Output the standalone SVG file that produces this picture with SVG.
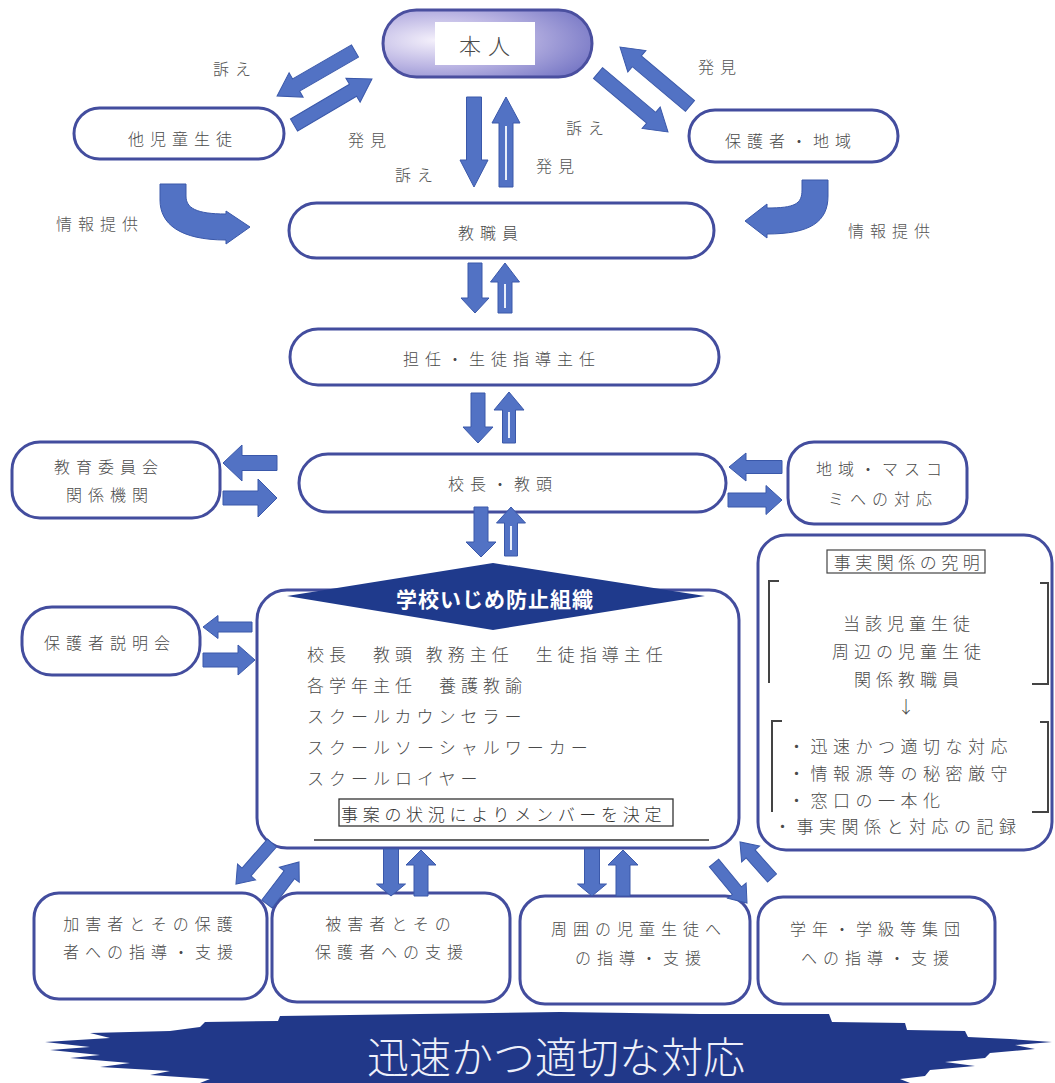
<svg xmlns="http://www.w3.org/2000/svg" width="1055" height="1083" viewBox="0 0 1055 1083">
<defs>
<radialGradient id="g1" cx="0.25" cy="0.45" r="0.85">
<stop offset="0" stop-color="#f4f0fb"/>
<stop offset="0.45" stop-color="#bdb7e4"/>
<stop offset="1" stop-color="#7273c3"/>
</radialGradient>
</defs>
<style>
.t{font-family:"Noto Sans CJK JP","Noto Sans CJK SC",sans-serif;font-size:16px;font-weight:300;fill:#4a4a4a;letter-spacing:6px}
.c{text-anchor:middle;dominant-baseline:central}
.l{dominant-baseline:central;font-size:17px;letter-spacing:5px}
.box{fill:#fff;stroke:#434d9e;stroke-width:3}
.arr{fill:#5272c4;stroke:#3a58aa;stroke-width:1}
.hl{stroke:#e8eefa;stroke-width:2;fill:none}
.br{fill:none;stroke:#444;stroke-width:2}
</style>
<rect width="1055" height="1083" fill="#fff"/>

<g id="honnin">
<rect x="383" y="10" width="209" height="67" rx="33.5" fill="url(#g1)" stroke="#4a4f9f" stroke-width="3"/>
<rect x="435" y="22" width="100" height="43" fill="#fff"/>
<text class="t c" x="488" y="44" style="font-size:22px;letter-spacing:7px">本人</text>
</g>
<g id="tajido">
<rect class="box" x="74" y="108" width="210" height="51" rx="25.5"/>
<text class="t c" x="183" y="138">他児童生徒</text>
</g>
<g id="hogosha-chiiki">
<rect class="box" x="689" y="110" width="209" height="52" rx="26"/>
<text class="t c" x="791" y="140">保護者・地域</text>
</g>
<g id="kyoshokuin">
<rect class="box" x="289" y="203" width="425" height="55" rx="27.5"/>
<text class="t c" x="491" y="232">教職員</text>
</g>
<g id="tannin">
<rect class="box" x="290" y="329" width="429" height="56" rx="28"/>
<text class="t c" x="502" y="358">担任・生徒指導主任</text>
</g>
<g id="kocho">
<rect class="box" x="299" y="454" width="427" height="58" rx="29"/>
<text class="t c" x="503" y="483">校長・教頭</text>
</g>
<g id="kyoiku">
<rect class="box" x="12" y="442" width="208" height="76" rx="28"/>
<text class="t c" x="109" y="466">教育委員会</text>
<text class="t c" x="110" y="494">関係機関</text>
</g>
<g id="masukomi">
<rect class="box" x="788" y="442" width="179" height="82" rx="26"/>
<text class="t c" x="882" y="468">地域・マスコ</text>
<text class="t c" x="883" y="498">ミへの対応</text>
</g>
<g id="setsumeikai">
<rect class="box" x="22" y="607" width="178" height="68" rx="30"/>
<text class="t c" x="110" y="642">保護者説明会</text>
</g>

<g id="soshiki">
<rect class="box" x="257" y="590" width="482" height="258" rx="30"/>
<polygon points="493,563 705,596 493,630 287,596" fill="#1f3a8c"/>
<text class="t c" x="495" y="598" style="fill:#fff;font-weight:bold;font-size:21px;letter-spacing:1px">学校いじめ防止組織</text>
<text class="t l" x="307" y="653">校長　教頭 教務主任　生徒指導主任</text>
<text class="t l" x="307" y="684">各学年主任　養護教諭</text>
<text class="t l" x="307" y="715">スクールカウンセラー</text>
<text class="t l" x="307" y="746">スクールソーシャルワーカー</text>
<text class="t l" x="307" y="777">スクールロイヤー</text>
<rect x="339" y="799" width="334" height="27" fill="none" stroke="#333" stroke-width="1.3"/>
<text class="t l" x="341" y="813" style="fill:#333;letter-spacing:4.7px">事案の状況によりメンバーを決定</text>
<line x1="314" y1="840" x2="709" y2="840" stroke="#333" stroke-width="1.5"/>
</g>

<g id="jijitsu">
<rect class="box" x="758" y="535" width="294" height="315" rx="28"/>
<rect x="827" y="550" width="158" height="23" fill="none" stroke="#444" stroke-width="1.2"/>
<text class="t c" x="909" y="561" style="font-size:17px;letter-spacing:4.5px">事実関係の究明</text>
<path class="br" d="M779,581 H769 V683"/>
<path class="br" d="M1040,583 H1048 V684 H1032"/>
<text class="t c" x="909" y="622" style="font-size:17px;letter-spacing:5px">当該児童生徒</text>
<text class="t c" x="909" y="650" style="font-size:17px;letter-spacing:5px">周辺の児童生徒</text>
<text class="t c" x="909" y="678" style="font-size:17px;letter-spacing:5px">関係教職員</text>
<text class="t c" x="906" y="705" style="font-size:17px;letter-spacing:0">↓</text>
<path class="br" d="M782,721 H772 V812"/>
<path class="br" d="M1040,722 H1048 V812 H1032"/>
<text class="t l" x="788" y="745" style="letter-spacing:5.5px">・迅速かつ適切な対応</text>
<text class="t l" x="788" y="772" style="letter-spacing:5.5px">・情報源等の秘密厳守</text>
<text class="t l" x="788" y="799" style="letter-spacing:5.5px">・窓口の一本化</text>
<text class="t l" x="774" y="825" style="letter-spacing:5.5px">・事実関係と対応の記録</text>
</g>

<g id="kagaisha">
<rect class="box" x="34" y="893" width="233" height="106" rx="25"/>
<text class="t c" x="151" y="923">加害者とその保護</text>
<text class="t c" x="151" y="951">者への指導・支援</text>
</g>
<g id="higaisha">
<rect class="box" x="272" y="893" width="238" height="109" rx="25"/>
<text class="t c" x="391" y="923">被害者とその</text>
<text class="t c" x="392" y="951">保護者への支援</text>
</g>
<g id="shui">
<rect class="box" x="520" y="896" width="230" height="108" rx="25"/>
<text class="t c" x="639" y="928">周囲の児童生徒へ</text>
<text class="t c" x="641" y="957">の指導・支援</text>
</g>
<g id="gakunen">
<rect class="box" x="758" y="897" width="237" height="107" rx="25"/>
<text class="t c" x="878" y="928">学年・学級等集団</text>
<text class="t c" x="878" y="957">への指導・支援</text>
</g>

<g id="banner">
<polygon fill="#213889" points="280,1016 420,1014 560,1012 700,1014 829,1014 832,1022 905,1023 907,1030 965,1031 968,1037 1010,1039 1052,1042 1015,1045 1035,1049 990,1053 985,1058 945,1062 975,1066 930,1070 925,1076 900,1079 910,1083 200,1083 210,1079 150,1075 170,1071 100,1067 130,1063 70,1058 100,1055 50,1050 90,1047 45,1042 110,1038 90,1033 170,1031 200,1027 205,1022 278,1021"/>
<text x="556" y="1054" text-anchor="middle" dominant-baseline="central" style="font-family:'Noto Sans CJK JP','Noto Sans CJK SC',sans-serif;font-size:42px;font-weight:300;fill:#eef0fa">迅速かつ適切な対応</text>
</g>

<g id="connectors">
<path class="arr" transform="translate(355,51) rotate(150)" d="M0,-7 H68 V-14 L90,0 L68,14 V7 H0 Z"/>
<path class="arr" transform="translate(294,125) rotate(-30.5)" d="M0,-7 H68.5 V-14 L90.5,0 L68.5,14 V7 H0 Z"/>
<path class="arr" transform="translate(474,97) rotate(90)" d="M0,-7.5 H63 V-14 L90,0 L63,14 V7.5 H0 Z"/>
<path class="arr" transform="translate(506,187) rotate(-90)" d="M0,-7 H64 V-14 L90,0 L64,14 V7 H0 Z"/>
<line class="hl" x1="506" y1="180" x2="506" y2="126"/>
<path class="arr" transform="translate(598,73) rotate(40.1)" d="M0,-7 H69.5 V-14 L91.5,0 L69.5,14 V7 H0 Z"/>
<path class="arr" transform="translate(690,106) rotate(-139.9)" d="M0,-7 H69.5 V-14 L91.5,0 L69.5,14 V7 H0 Z"/>

<path class="arr" d="M160,184 H186 V196 C186,208 196,214 226,214 V211 L250,227 L226,244 V240 C180,240 160,224 160,200 Z"/>
<path class="arr" d="M828,180 V196 C828,222 810,234 767,234 V238 L745,221 L767,204 V208 C795,208 802,204 802,190 V180 Z"/>

<path class="arr" transform="translate(475,263) rotate(90)" d="M0,-7 H35 V-14 L50,0 L35,14 V7 H0 Z"/>
<path class="arr" transform="translate(505,313) rotate(-90)" d="M0,-7 H31 V-14.5 L50,0 L31,14.5 V7 H0 Z"/>
<line class="hl" x1="505" y1="308" x2="505" y2="284"/>
<path class="arr" transform="translate(478,393) rotate(90)" d="M0,-7 H34 V-15 L50,0 L34,15 V7 H0 Z"/>
<path class="arr" transform="translate(509,443) rotate(-90)" d="M0,-6.5 H33 V-15 L51,0 L33,15 V6.5 H0 Z"/>
<line class="hl" x1="509" y1="438" x2="509" y2="412"/>
<path class="arr" transform="translate(481,507) rotate(90)" d="M0,-7 H35 V-15 L50,0 L35,15 V7 H0 Z"/>
<path class="arr" transform="translate(511,556) rotate(-90)" d="M0,-6.5 H33 V-14.5 L49,0 L33,14.5 V6.5 H0 Z"/>
<line class="hl" x1="511" y1="550" x2="511" y2="526"/>

<path class="arr" transform="translate(277,463) rotate(180)" d="M0,-7.5 H35 V-18 L54,0 L35,18 V7.5 H0 Z"/>
<path class="arr" transform="translate(223,498)" d="M0,-7 H35 V-19 L54,0 L35,19 V7 H0 Z"/>
<path class="arr" transform="translate(782,467) rotate(180)" d="M0,-6.5 H36 V-14 L53,0 L36,14 V6.5 H0 Z"/>
<path class="arr" transform="translate(728,500)" d="M0,-7 H38 V-14.5 L54,0 L38,14.5 V7 H0 Z"/>
<path class="arr" transform="translate(252,627) rotate(180)" d="M0,-5 H34 V-11.5 L49,0 L34,11.5 V5 H0 Z"/>
<path class="arr" transform="translate(203,660)" d="M0,-7 H35 V-15 L52,0 L35,15 V7 H0 Z"/>

<path class="arr" transform="translate(272,843) rotate(131.3)" d="M0,-6 H38.6 V-12 L54.6,0 L38.6,12 V6 H0 Z"/>
<path class="arr" transform="translate(267,904) rotate(-52.7)" d="M0,-6.5 H36.8 V-12.5 L52.8,0 L36.8,12.5 V6.5 H0 Z"/>
<path class="arr" transform="translate(391,849) rotate(90)" d="M0,-7.5 H35 V-14.5 L47,0 L35,14.5 V7.5 H0 Z"/>
<path class="arr" transform="translate(421,896) rotate(-90)" d="M0,-7 H31 V-15 L46,0 L31,15 V7 H0 Z"/>
<path class="arr" transform="translate(592,849) rotate(90)" d="M0,-7.5 H35 V-14.5 L47,0 L35,14.5 V7.5 H0 Z"/>
<path class="arr" transform="translate(623,896) rotate(-90)" d="M0,-7 H31 V-15 L46,0 L31,15 V7 H0 Z"/>
<path class="arr" transform="translate(714,863) rotate(50.5)" d="M0,-6 H35.9 V-12 L51.9,0 L35.9,12 V6 H0 Z"/>
<path class="arr" transform="translate(772,878) rotate(-131.6)" d="M0,-6 H32.2 V-12 L48.2,0 L32.2,12 V6 H0 Z"/>
</g>

<g id="labels">
<text class="t c" x="235" y="68" style="fill:#555">訴え</text>
<text class="t c" x="370" y="139" style="fill:#555">発見</text>
<text class="t c" x="417" y="174" style="fill:#555">訴え</text>
<text class="t c" x="558" y="165" style="fill:#555">発見</text>
<text class="t c" x="588" y="127" style="fill:#555">訴え</text>
<text class="t c" x="720" y="66" style="fill:#555">発見</text>
<text class="t c" x="100" y="223" style="fill:#555">情報提供</text>
<text class="t c" x="892" y="230" style="fill:#555">情報提供</text>
</g>
</svg>
